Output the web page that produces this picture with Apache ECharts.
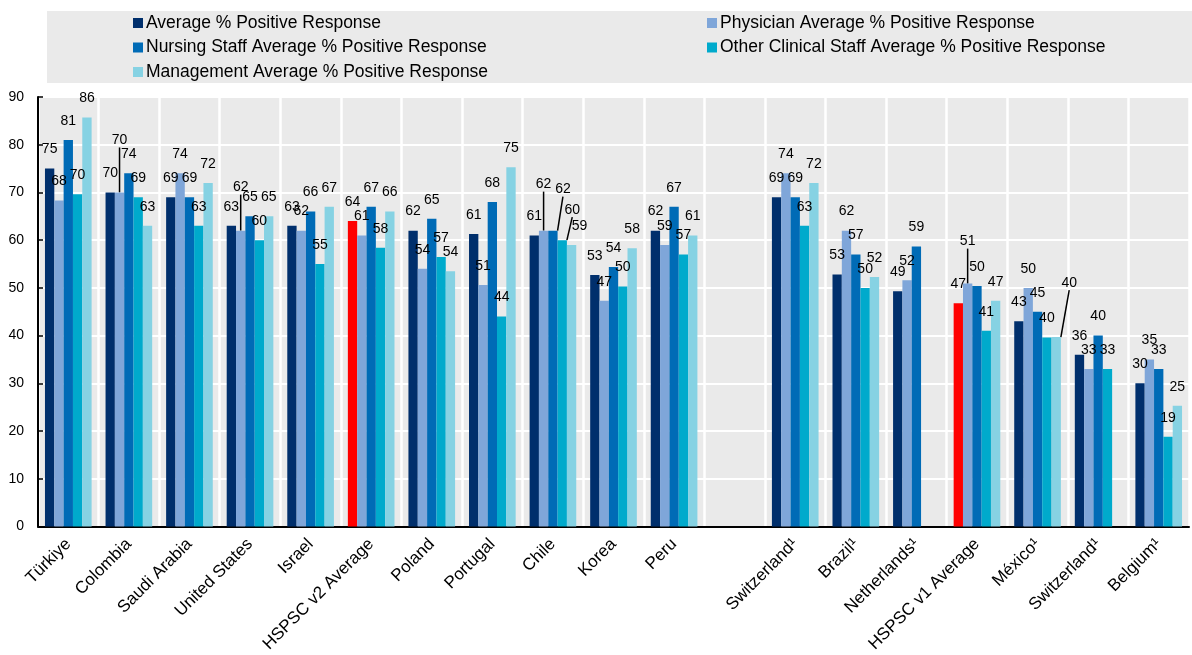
<!DOCTYPE html>
<html>
<head>
<meta charset="utf-8">
<script src="https://cdn.jsdelivr.net/npm/echarts@6/dist/echarts.min.js"></script>
<style>
  html, body { margin: 0; padding: 0; background: #fff; }
  #chart { width: 1192px; height: 655px; }
</style>
</head>
<body>
<div id="chart"></div>
<script>
// categories ('' is the empty gap between the two survey versions)
const categories = ['Türkiye', 'Colombia', 'Saudi Arabia', 'United States', 'Israel', 'HSPSC v2 Average',
  'Poland', 'Portugal', 'Chile', 'Korea', 'Peru', '',
  'Switzerland¹', 'Brazil¹', 'Netherlands¹', 'HSPSC v1 Average', 'México¹', 'Switzerland¹', 'Belgium¹'];

const seriesNames = ['Average % Positive Response', 'Physician Average % Positive Response',
  'Nursing Staff Average % Positive Response', 'Other Clinical Staff Average % Positive Response',
  'Management Average % Positive Response'];

const averageAll = [75, 70, 69, 63, 63, 64, 62, 61.3, 61, 52.7, 62, null, 69, 52.8, 49.3, 46.8, 43, 36, 30];
const physician = [68.3, 70, 74, 62, 62, 61, 54, 50.6, 62, 47.3, 59, null, 74, 62, 51.6, 50.9, 50, 33, 35];
const nursing = [81, 74, 69, 65, 66, 67, 64.5, 68, 62, 54.4, 67, null, 69, 57, 58.7, 50.4, 45, 40, 33];
const otherClinical = [69.6, 69, 63, 60, 55, 58.4, 56.5, 44, 60, 50.3, 57, null, 63, 50, null, 41, 39.6, 33, 18.8];
const management = [85.7, 63, 72, 65, 67, 66, 53.5, 75.3, 59, 58.3, 61, null, 72, 52.3, null, 47.3, 39.7, null, 25.3];

const yTicks = [0, 10, 20, 30, 40, 50, 60, 70, 80, 90];

const colors = ['#002F6C', '#7FA6D9', '#006BB6', '#00AACC', '#86D2E3'];
const FONT = "'Liberation Sans', Arial, sans-serif";

// labels nudged off the bar top, as in the original (key: category index - series index)
const labelShift = {
  '1-1': [0, -33], '3-1': [0, -24], '8-1': [0, -27], '8-2': [10, -22],
  '8-3': [10, -11], '8-4': [8, 0], '15-1': [0, -23], '16-4': [13, -35]
};

const chart = echarts.init(document.getElementById('chart'));

const allValues = [averageAll, physician, nursing, otherClinical, management];

const series = allValues.map((vals, s) => ({
  name: seriesNames[s],
  type: 'bar',
  barGap: '0%',
  barCategoryGap: '23%',
  itemStyle: { color: colors[s] },
  label: {
    show: true,
    position: 'top',
    distance: 12,
    color: '#000',
    fontSize: 14,
    fontFamily: FONT,
    formatter: p => Math.round(p.value)
  },
  labelLine: { show: false, lineStyle: { color: '#000', width: 1.5 } },
  labelLayout: p => {
    const sh = labelShift[p.dataIndex + '-' + p.seriesIndex];
    return sh ? { dx: sh[0], dy: sh[1] } : {};
  },
  data: vals.map((v, i) => {
    const item = { value: v };
    const sh = labelShift[i + '-' + s];
    if (sh && sh[1] !== 0) item.labelLine = { show: true };
    if (s === 0 && categories[i].indexOf('HSPSC') === 0) item.itemStyle = { color: '#FF0000' };
    return item;
  })
}));

const legendCommon = {
  orient: 'vertical',
  top: 9,
  itemWidth: 10,
  itemHeight: 10,
  itemGap: 6.5,
  icon: 'rect',
  selectedMode: false,
  textStyle: { fontSize: 17.5, fontFamily: FONT, color: '#000', padding: [0, 0, 0, -2] }
};

const option = {
  animation: false,
  graphic: [{
    type: 'rect',
    left: 47, top: 11,
    shape: { width: 1145, height: 72 },
    style: { fill: '#EAEAEA' },
    z: -10
  }],
  legend: [
    Object.assign({ left: 128, data: [seriesNames[0], seriesNames[2], seriesNames[4]] }, legendCommon),
    Object.assign({ left: 702, data: [seriesNames[1], seriesNames[3]] }, legendCommon)
  ],
  grid: {
    left: 38, right: 3, top: 97, bottom: 125.5,
    show: true, backgroundColor: '#EAEAEA', borderWidth: 0
  },
  xAxis: {
    type: 'category',
    data: categories,
    axisLine: { lineStyle: { color: '#000', width: 2 } },
    axisTick: { inside: true, length: 5, lineStyle: { color: '#000', width: 1.5 } },
    splitLine: { show: true, interval: 0, lineStyle: { color: '#fff', width: 2.5 } },
    axisLabel: {
      interval: 0, rotate: 45, margin: 15,
      color: '#000', fontSize: 17, fontFamily: FONT
    }
  },
  yAxis: {
    type: 'value',
    min: yTicks[0],
    max: yTicks[yTicks.length - 1],
    interval: yTicks[1] - yTicks[0],
    axisLine: { show: true, lineStyle: { color: '#000', width: 2 } },
    axisTick: { show: true, inside: true, length: 5, lineStyle: { color: '#000', width: 1.5 } },
    splitLine: { lineStyle: { color: '#fff', width: 2 } },
    axisLabel: { margin: 14, color: '#000', fontSize: 14, fontFamily: FONT }
  },
  series: series
};

chart.setOption(option);
</script>
</body>
</html>
